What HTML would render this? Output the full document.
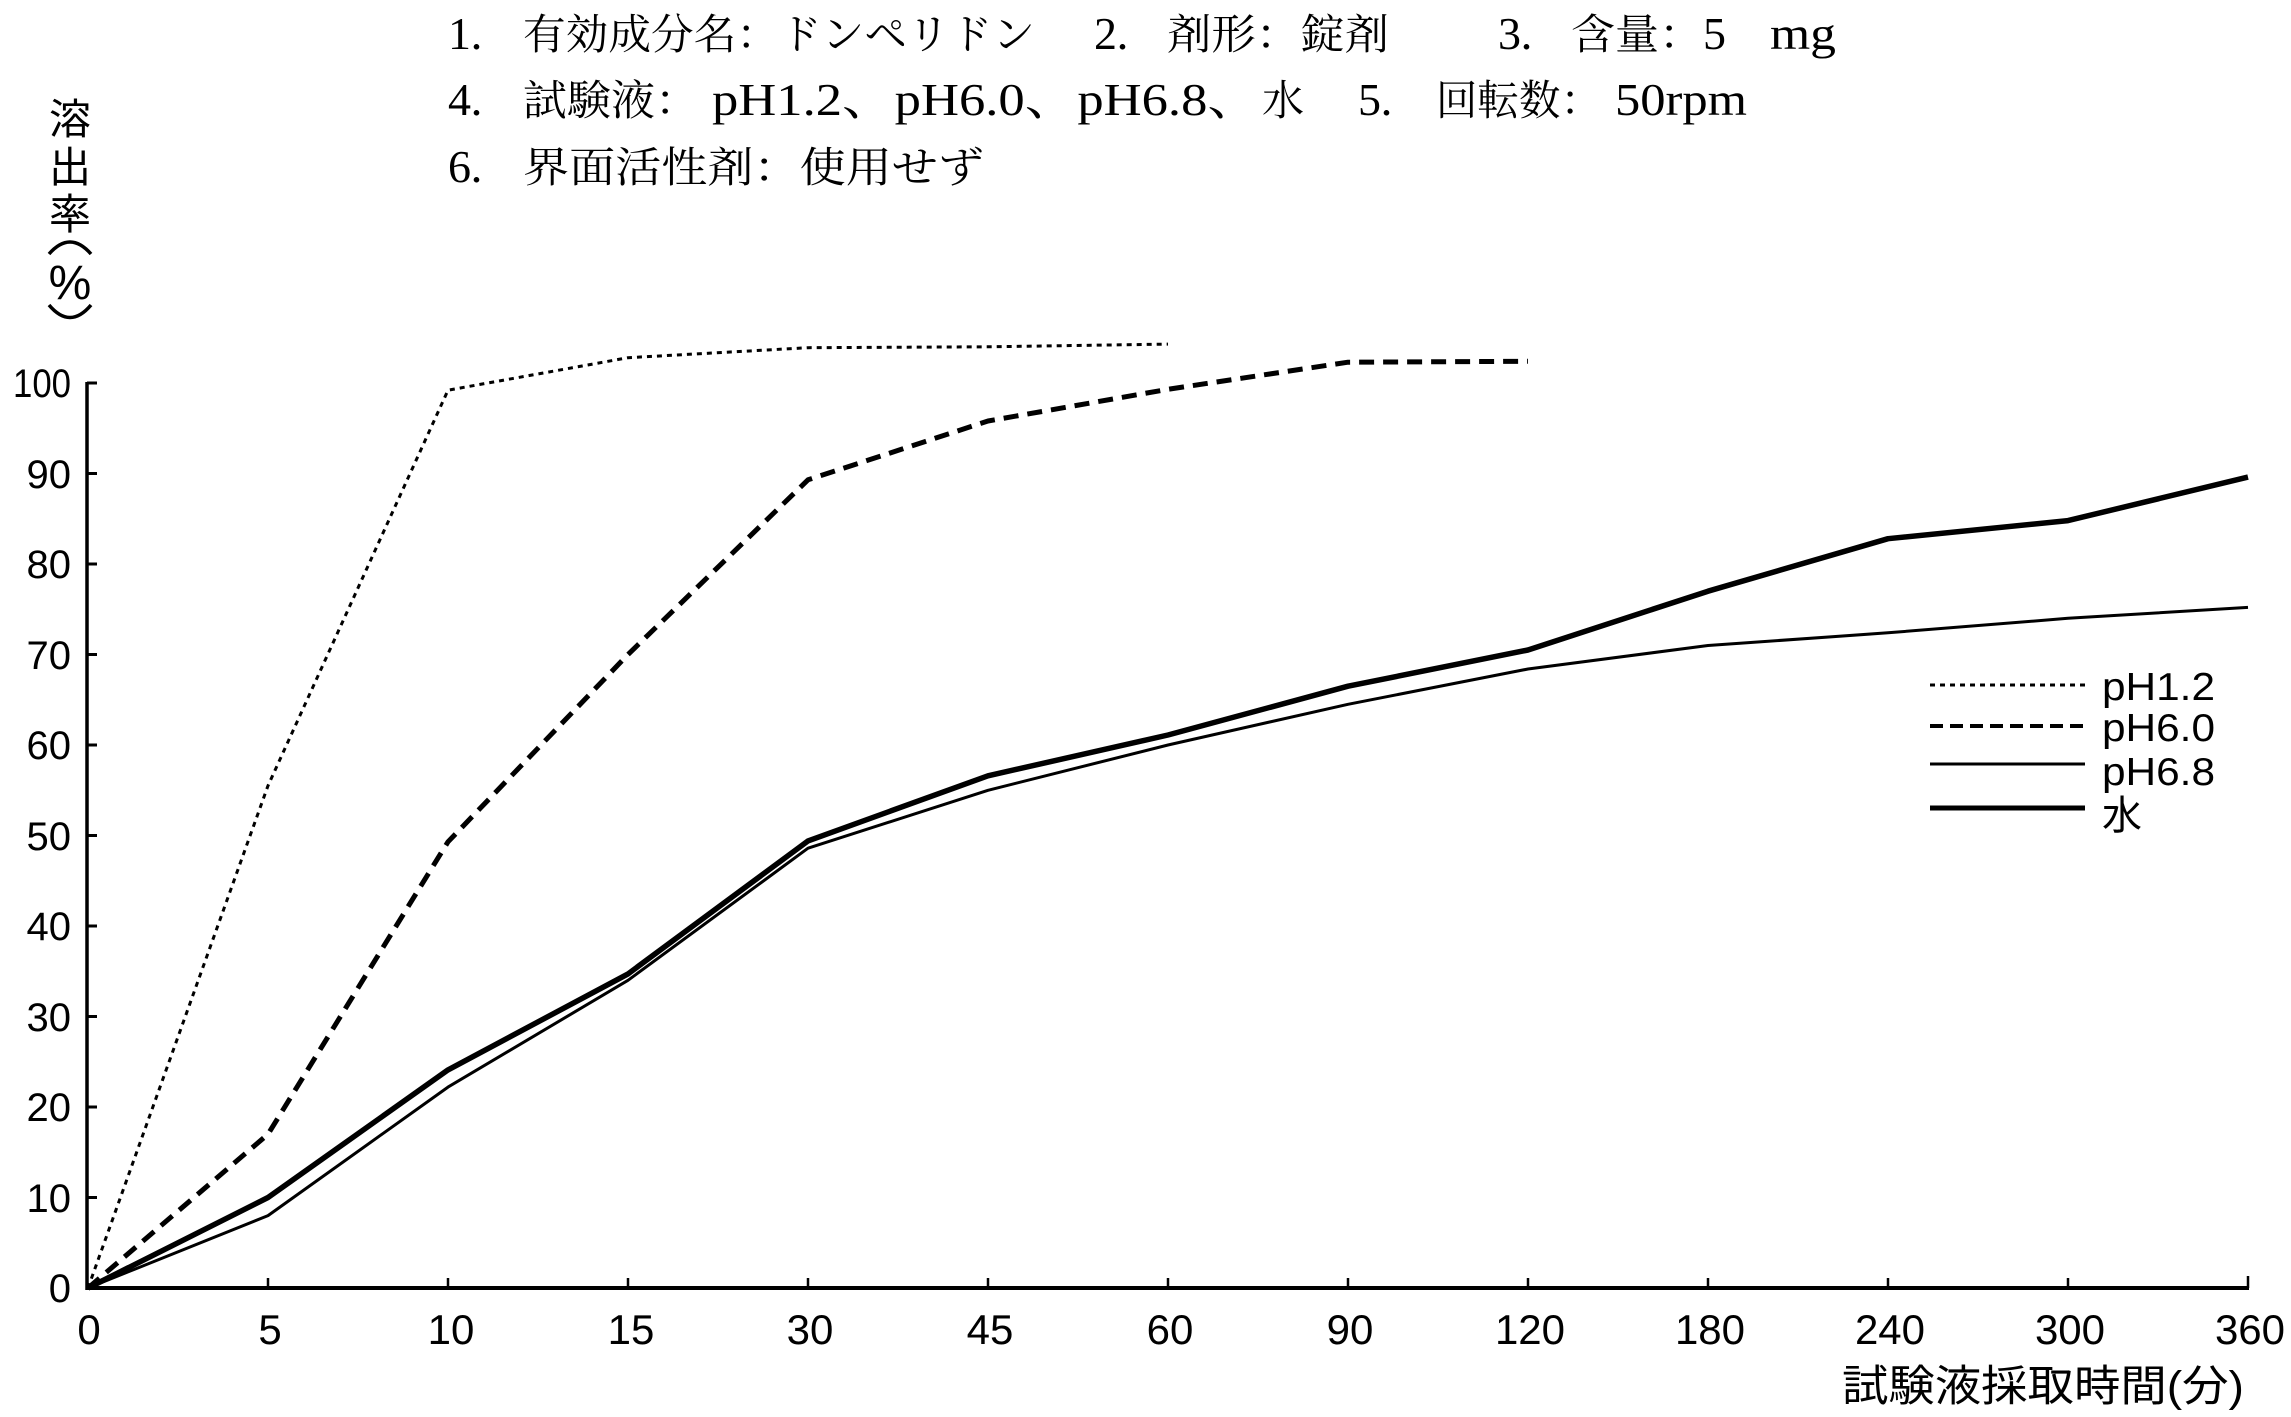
<!DOCTYPE html>
<html>
<head>
<meta charset="utf-8">
<style>
  html,body{margin:0;padding:0;background:#fff;}
  svg{display:block;}
</style>
</head>
<body>
<svg xmlns="http://www.w3.org/2000/svg" width="2291" height="1417" viewBox="0 0 2291 1417">
  <rect x="0" y="0" width="2291" height="1417" fill="#fff"/>

  <!-- Title block -->
  <g font-family="'Liberation Serif','Noto Serif CJK SC',serif" font-size="42" fill="#000">
    <!-- line 1 -->
    <text x="448" y="49" font-size="46">1</text>
    <text x="470" y="49">．</text>
    <text x="523" y="49" textLength="512" lengthAdjust="spacingAndGlyphs">有効成分名：ドンペリドン</text>
    <text x="1094" y="49" font-size="46">2</text>
    <text x="1116" y="49">．</text>
    <text x="1167" y="49" textLength="222" lengthAdjust="spacingAndGlyphs">剤形：錠剤</text>
    <text x="1498" y="49" font-size="46">3</text>
    <text x="1520" y="49">．</text>
    <text x="1571" y="49" textLength="132" lengthAdjust="spacingAndGlyphs">含量：</text>
    <text x="1703" y="49" font-size="46">5</text>
    <text x="1770" y="49" font-size="46" textLength="66" lengthAdjust="spacingAndGlyphs">mg</text>

    <!-- line 2 -->
    <text x="448" y="115" font-size="46">4</text>
    <text x="470" y="115">．</text>
    <text x="523" y="115" textLength="176" lengthAdjust="spacingAndGlyphs">試験液：</text>
    <text x="712" y="115" font-size="46" textLength="548" lengthAdjust="spacingAndGlyphs">pH1.2、pH6.0、pH6.8、</text>
    <text x="1262" y="115">水</text>
    <text x="1358" y="115" font-size="46">5</text>
    <text x="1380" y="115">．</text>
    <text x="1436" y="115" textLength="166" lengthAdjust="spacingAndGlyphs">回転数：</text>
    <text x="1615" y="115" font-size="46" textLength="132" lengthAdjust="spacingAndGlyphs">50rpm</text>

    <!-- line 3 -->
    <text x="448" y="182" font-size="46">6</text>
    <text x="470" y="182">．</text>
    <text x="523" y="182" textLength="461" lengthAdjust="spacingAndGlyphs">界面活性剤：使用せず</text>
  </g>

  <!-- Y axis title (vertical) -->
  <g font-family="'Liberation Sans','Noto Sans CJK JP',sans-serif" font-size="42" fill="#000" text-anchor="middle">
    <text x="70" y="134">溶</text>
    <text x="70" y="182">出</text>
    <text x="70" y="229">率</text>
    <text x="70" y="299" font-size="48">%</text>
  </g>
  <path d="M49 254 Q70 230 91 254" fill="none" stroke="#000" stroke-width="3.5"/>
  <path d="M49 305 Q70 330 91 305" fill="none" stroke="#000" stroke-width="3.5"/>

  <!-- Axes -->
  <g stroke="#000" fill="none">
    <line x1="87" y1="382" x2="87" y2="1290" stroke-width="3.5"/>
    <line x1="86" y1="1288" x2="2249" y2="1288" stroke-width="4"/>
    <!-- y ticks -->
    <g stroke-width="3">
      <line x1="87" y1="383" x2="97" y2="383"/>
      <line x1="87" y1="473.5" x2="97" y2="473.5"/>
      <line x1="87" y1="564" x2="97" y2="564"/>
      <line x1="87" y1="654.5" x2="97" y2="654.5"/>
      <line x1="87" y1="745" x2="97" y2="745"/>
      <line x1="87" y1="835.5" x2="97" y2="835.5"/>
      <line x1="87" y1="926" x2="97" y2="926"/>
      <line x1="87" y1="1016.5" x2="97" y2="1016.5"/>
      <line x1="87" y1="1107" x2="97" y2="1107"/>
      <line x1="87" y1="1197.5" x2="97" y2="1197.5"/>
    </g>
    <!-- x ticks -->
    <g stroke-width="2.5">
      <line x1="268" y1="1288" x2="268" y2="1278"/>
      <line x1="448" y1="1288" x2="448" y2="1278"/>
      <line x1="628" y1="1288" x2="628" y2="1278"/>
      <line x1="808" y1="1288" x2="808" y2="1278"/>
      <line x1="988" y1="1288" x2="988" y2="1278"/>
      <line x1="1168" y1="1288" x2="1168" y2="1278"/>
      <line x1="1348" y1="1288" x2="1348" y2="1278"/>
      <line x1="1528" y1="1288" x2="1528" y2="1278"/>
      <line x1="1708" y1="1288" x2="1708" y2="1278"/>
      <line x1="1888" y1="1288" x2="1888" y2="1278"/>
      <line x1="2068" y1="1288" x2="2068" y2="1278"/>
      <line x1="2248" y1="1288" x2="2248" y2="1276"/>
    </g>
  </g>

  <!-- Y tick labels -->
  <g font-family="'Liberation Sans',sans-serif" font-size="40" fill="#000" text-anchor="end">
    <text x="71" y="397" textLength="58" lengthAdjust="spacingAndGlyphs">100</text>
    <text x="71" y="488">90</text>
    <text x="71" y="578">80</text>
    <text x="71" y="669">70</text>
    <text x="71" y="759">60</text>
    <text x="71" y="850">50</text>
    <text x="71" y="940">40</text>
    <text x="71" y="1031">30</text>
    <text x="71" y="1121">20</text>
    <text x="71" y="1212">10</text>
    <text x="71" y="1302">0</text>
  </g>

  <!-- X tick labels -->
  <g font-family="'Liberation Sans',sans-serif" font-size="42" fill="#000" text-anchor="middle">
    <text x="89" y="1344">0</text>
    <text x="270" y="1344">5</text>
    <text x="451" y="1344">10</text>
    <text x="631" y="1344">15</text>
    <text x="810" y="1344">30</text>
    <text x="990" y="1344">45</text>
    <text x="1170" y="1344">60</text>
    <text x="1350" y="1344">90</text>
    <text x="1530" y="1344">120</text>
    <text x="1710" y="1344">180</text>
    <text x="1890" y="1344">240</text>
    <text x="2070" y="1344">300</text>
    <text x="2250" y="1344">360</text>
  </g>

  <!-- X axis title -->
  <text x="1842" y="1401" font-family="'Liberation Sans','Noto Sans CJK JP',sans-serif" font-size="43" fill="#000" textLength="402" lengthAdjust="spacingAndGlyphs">試験液採取時間(分)</text>

  <!-- Series -->
  <g fill="none" stroke="#000" stroke-linejoin="round">
    <!-- pH1.2 dotted -->
    <polyline stroke-width="3" stroke-dasharray="5 5"
      points="88,1288 268,785.7 448,390.2 628,357.7 808,347.7 988,346.8 1168,344.1"/>
    <!-- pH6.0 dashed -->
    <polyline stroke-width="5" stroke-dasharray="15 9"
      points="88,1288 268,1134.2 448,841.8 628,654.5 808,479.8 988,421.0 1168,389.3 1348,362.2 1528,361.3"/>
    <!-- pH6.8 thin solid -->
    <polyline stroke-width="3"
      points="88,1288 268,1215.6 448,1087.1 628,980.3 808,848.2 988,790.3 1168,745 1348,704.3 1528,669.0 1708,645.5 1888,632.8 2068,618.3 2248,607.4"/>
    <!-- water thick solid -->
    <polyline stroke-width="5.5"
      points="88,1288 268,1197.5 448,1069.9 628,973.9 808,840.9 988,775.8 1168,735.0 1348,686.2 1528,650.0 1708,591.2 1888,538.7 2068,520.6 2248,477.1"/>
  </g>

  <!-- Legend -->
  <g fill="none" stroke="#000">
    <line x1="1930" y1="685" x2="2085" y2="685" stroke-width="3" stroke-dasharray="5 5"/>
    <line x1="1930" y1="726" x2="2085" y2="726" stroke-width="4" stroke-dasharray="13 7"/>
    <line x1="1930" y1="764" x2="2085" y2="764" stroke-width="3"/>
    <line x1="1930" y1="808" x2="2085" y2="808" stroke-width="5"/>
  </g>
  <g font-family="'Liberation Sans','Noto Sans CJK JP',sans-serif" font-size="39" fill="#000">
    <text x="2102" y="700" textLength="113" lengthAdjust="spacingAndGlyphs">pH1.2</text>
    <text x="2102" y="741" textLength="113" lengthAdjust="spacingAndGlyphs">pH6.0</text>
    <text x="2102" y="785" textLength="113" lengthAdjust="spacingAndGlyphs">pH6.8</text>
    <text x="2102" y="829" font-size="40">水</text>
  </g>
</svg>
</body>
</html>
